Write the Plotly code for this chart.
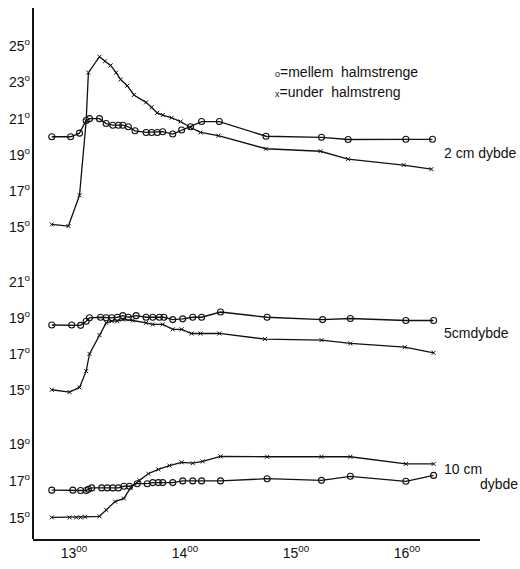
import plotly.graph_objects as go

# time axis in hours
hours_ticks = [13, 14, 15, 16]
hours_ticktext = ["13<sup>00</sup>", "14<sup>00</sup>", "15<sup>00</sup>", "16<sup>00</sup>"]

# 2 cm depth
t2_mellem = [12.80, 12.97, 13.05, 13.11, 13.14, 13.23, 13.29, 13.35, 13.40, 13.44, 13.49, 13.55,
             13.65, 13.70, 13.75, 13.80, 13.89, 13.97, 14.05, 14.15, 14.31, 14.73, 15.23, 15.47, 15.99, 16.23]
v2_mellem = [20.0, 20.0, 20.2, 20.9, 21.0, 21.0, 20.73, 20.64, 20.64, 20.64, 20.55, 20.33,
             20.24, 20.24, 20.24, 20.28, 20.15, 20.37, 20.55, 20.84, 20.84, 20.03, 19.97, 19.85, 19.86, 19.86]
t2_under = [12.80, 12.95, 13.05, 13.11, 13.13, 13.23, 13.28, 13.33, 13.38, 13.42, 13.48, 13.54,
            13.65, 13.70, 13.75, 13.80, 13.88, 13.96, 14.05, 14.14, 14.30, 14.73, 15.22, 15.47, 15.97, 16.22]
v2_under = [15.16, 15.07, 16.77, 20.88, 23.54, 24.42, 24.17, 23.94, 23.54, 23.16, 22.82, 22.31,
            21.90, 21.63, 21.32, 21.20, 21.05, 20.84, 20.51, 20.24, 20.06, 19.34, 19.20, 18.77, 18.44, 18.21]

# 5 cm depth
t5_mellem = [12.80, 12.98, 13.06, 13.11, 13.14, 13.24, 13.29, 13.34, 13.39, 13.44, 13.49, 13.56,
             13.65, 13.71, 13.77, 13.81, 13.89, 13.98, 14.07, 14.15, 14.32, 14.74, 15.24, 15.49, 15.99, 16.24]
v5_mellem = [18.63, 18.63, 18.61, 18.84, 19.03, 19.06, 19.03, 19.03, 19.06, 19.15, 19.06, 19.15,
             19.06, 19.06, 19.06, 19.06, 18.93, 18.97, 19.06, 19.06, 19.35, 19.06, 18.93, 18.99, 18.88, 18.88]
t5_under = [12.80, 12.96, 13.05, 13.11, 13.14, 13.23, 13.29, 13.34, 13.39, 13.44, 13.53, 13.65,
            13.71, 13.80, 13.89, 13.97, 14.06, 14.14, 14.31, 14.72, 15.23, 15.49, 15.98, 16.24]
v5_under = [15.04, 14.91, 15.17, 16.07, 17.03, 18.07, 18.75, 18.84, 18.84, 18.93, 18.88, 18.75,
            18.66, 18.66, 18.39, 18.39, 18.16, 18.16, 18.16, 17.85, 17.79, 17.61, 17.40, 17.09]

# 10 cm depth
t10_mellem = [12.80, 12.99, 13.06, 13.11, 13.13, 13.16, 13.25, 13.30, 13.35, 13.40, 13.45, 13.50,
              13.57, 13.66, 13.71, 13.76, 13.80, 13.89, 13.98, 14.07, 14.15, 14.32, 14.74, 15.23, 15.49, 15.99, 16.24]
v10_mellem = [16.53, 16.53, 16.51, 16.51, 16.58, 16.65, 16.65, 16.65, 16.65, 16.65, 16.74, 16.74,
              16.88, 16.88, 16.94, 16.94, 16.94, 16.94, 17.03, 17.03, 17.03, 17.03, 17.15, 17.06, 17.28, 17.01, 17.33]
t10_under = [12.80, 12.96, 13.02, 13.06, 13.10, 13.23, 13.29, 13.37, 13.45, 13.51, 13.59, 13.67,
             13.76, 13.86, 13.97, 14.07, 14.16, 14.32, 14.74, 15.23, 15.49, 15.99, 16.24]
v10_under = [15.05, 15.05, 15.05, 15.05, 15.08, 15.11, 15.46, 15.91, 16.08, 16.65, 17.06, 17.42,
             17.65, 17.86, 18.04, 17.99, 18.09, 18.36, 18.34, 18.34, 18.34, 17.95, 17.95]

ticks_top = [15, 17, 19, 21, 23, 25]
ticks_mid = [15, 17, 19, 21]
ticks_bot = [15, 17, 19]

legend_mellem = "<span style='font-size:9px'>o</span>=mellem  halmstrenge"
legend_under = "<span style='font-size:9px'>x</span>=under  halmstreng"
depth_labels = ["2 cm dybde", "5cmdybde", "10 cm", "dybde"]

FONT = "Liberation Sans, Arial, sans-serif"
BLACK = "#111111"

circle = dict(symbol="circle-open", size=6, color=BLACK, line=dict(width=1.1, color=BLACK))
cross = dict(symbol="x-thin", size=4, color=BLACK, line=dict(width=1, color=BLACK))
line_style = dict(color=BLACK, width=1.3)

fig = go.Figure()
series = [
    (t2_mellem, v2_mellem, "y", circle), (t2_under, v2_under, "y", cross),
    (t5_mellem, v5_mellem, "y2", circle), (t5_under, v5_under, "y2", cross),
    (t10_mellem, v10_mellem, "y3", circle), (t10_under, v10_under, "y3", cross),
]
for xs, ys, ya, mk in series:
    fig.add_trace(go.Scatter(x=xs, y=ys, xaxis="x", yaxis=ya, mode="lines+markers",
                             line=line_style, marker=mk, showlegend=False, cliponaxis=False))

def deg(vals):
    return [f"{v}<sup>o</sup>" for v in vals]

yax_common = dict(showgrid=False, zeroline=False, ticks="", showline=False, anchor="x",
                  tickfont=dict(family=FONT, size=14, color=BLACK), ticklabelstandoff=2)

fig.update_layout(
    width=520, height=569,
    margin=dict(l=33, r=40, t=8, b=21),
    paper_bgcolor="white", plot_bgcolor="white",
    font=dict(family=FONT, size=14, color=BLACK),
    xaxis=dict(range=[12.631, 16.658], tickvals=hours_ticks, ticktext=hours_ticktext,
               showgrid=False, zeroline=False, ticks="", showline=True, linecolor=BLACK, linewidth=1.5,
               anchor="y3", tickfont=dict(family=FONT, size=14, color=BLACK)),
    yaxis=dict(domain=[0.5426, 1.0], range=[13.70, 27.11], tickvals=ticks_top, ticktext=deg(ticks_top), **yax_common),
    yaxis2=dict(domain=[0.2556, 0.5426], range=[14.29, 22.74], tickvals=ticks_mid, ticktext=deg(ticks_mid), **yax_common),
    yaxis3=dict(domain=[0.0, 0.2556], range=[13.88, 21.24], tickvals=ticks_bot, ticktext=deg(ticks_bot), **yax_common),
)

# continuous left axis line
fig.add_shape(type="line", xref="paper", yref="paper", x0=0, x1=0, y0=0, y1=1,
              line=dict(color=BLACK, width=2))

def px_x(p):
    return (p - 33) / (520 - 33 - 40)

def px_y(p):
    return (548 - p) / 540

ann = dict(xref="paper", yref="paper", showarrow=False, xanchor="left", yanchor="middle",
           font=dict(family=FONT, size=14, color=BLACK))
fig.add_annotation(text=legend_mellem, x=px_x(273), y=px_y(73), **ann)
fig.add_annotation(text=legend_under, x=px_x(273), y=px_y(93), **ann)
fig.add_annotation(text=depth_labels[0], x=px_x(442), y=px_y(155), **ann)
fig.add_annotation(text=depth_labels[1], x=px_x(442), y=px_y(339), **ann)
fig.add_annotation(text=depth_labels[2], x=px_x(442), y=px_y(477), **ann)
fig.add_annotation(text=depth_labels[3], x=px_x(478), y=px_y(492), **ann)

fig.write_html("out.html", config={"displayModeBar": False},
               post_script="document.body.style.margin='0';document.body.style.overflow='hidden';")
